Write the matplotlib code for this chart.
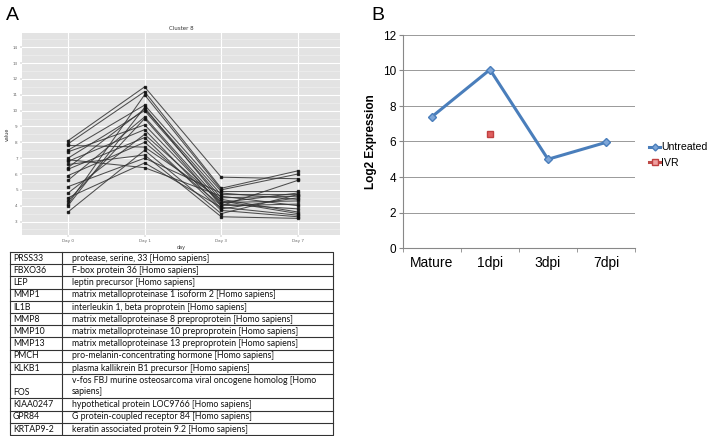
import matplotlib
matplotlib.use("Agg")
import matplotlib.pyplot as plt
import numpy as np
from matplotlib.lines import Line2D

# ---------------- data ----------------
days = ["Day 0", "Day 1", "Day 3", "Day 7"]
cluster_day0 = [8.1, 7.9, 4.1, 7.5, 4.0, 6.4, 7.0, 5.6, 4.3, 7.4, 6.8, 4.8, 6.3, 5.9, 7.8, 3.6, 6.6, 5.2, 4.5, 6.9]
cluster_day1 = [11.5, 11.2, 11.0, 10.35, 10.2, 10.1, 10.0, 9.6, 9.5, 9.1, 8.8, 8.5, 8.3, 8.0, 7.7, 7.5, 7.2, 7.0, 6.7, 6.4]
cluster_day3 = [5.8, 5.1, 5.0, 4.9, 4.3, 4.7, 4.5, 4.2, 4.0, 4.1, 3.8, 4.2, 3.7, 4.0, 4.4, 3.5, 3.3, 4.8, 3.9, 4.6]
cluster_day7 = [5.7, 6.2, 6.0, 4.9, 3.5, 4.7, 4.6, 4.8, 4.1, 3.8, 4.5, 4.3, 3.3, 5.6, 3.6, 4.7, 3.2, 4.4, 3.4, 4.0]
a_yticks = list(range(3, 15))

genes = ["PRSS33", "FBXO36", "LEP", "MMP1", "IL1B", "MMP8", "MMP10", "MMP13",
         "PMCH", "KLKB1", "FOS", "KIAA0247", "GPR84", "KRTAP9-2"]
descriptions = [
    "protease, serine, 33 [Homo sapiens]",
    "F-box protein 36 [Homo sapiens]",
    "leptin precursor [Homo sapiens]",
    "matrix metalloproteinase 1 isoform 2 [Homo sapiens]",
    "interleukin 1, beta proprotein [Homo sapiens]",
    "matrix metalloproteinase 8 preproprotein [Homo sapiens]",
    "matrix metalloproteinase 10 preproprotein [Homo sapiens]",
    "matrix metalloproteinase 13 preproprotein [Homo sapiens]",
    "pro-melanin-concentrating hormone [Homo sapiens]",
    "plasma kallikrein B1 precursor [Homo sapiens]",
    "v-fos FBJ murine osteosarcoma viral oncogene homolog [Homo\nsapiens]",
    "hypothetical protein LOC9766 [Homo sapiens]",
    "G protein-coupled receptor 84 [Homo sapiens]",
    "keratin associated protein 9.2 [Homo sapiens]",
]
row_heights = [1, 1, 1, 1, 1, 1, 1, 1, 1, 1, 2, 1, 1, 1]

b_categories = ["Mature", "1dpi", "3dpi", "7dpi"]
untreated = [7.4, 10.05, 5.0, 5.95]
ivr_category = ["1dpi"]
ivr = [6.4]

# ---------------- figure ----------------
W, H = 711, 436
fig = plt.figure(figsize=(W / 100, H / 100), dpi=100)
fig.patch.set_facecolor("white")

def frac(x0, y0, x1, y1):
    return [x0 / W, 1 - y1 / H, (x1 - x0) / W, (y1 - y0) / H]

# ---- panel A plot ----
axA = fig.add_axes(frac(22, 33, 340, 235))
axA.set_facecolor("#e3e3e3")
xpos = np.arange(len(days))
for v in zip(cluster_day0, cluster_day1, cluster_day3, cluster_day7):
    axA.plot(xpos, v, color="#333333", lw=0.75, alpha=0.85, marker="s", ms=1.5,
             mfc="#111111", mec="#111111", zorder=3)
axA.set_xlim(-0.6, 3.55)
axA.set_ylim(2.15, 14.9)
axA.set_yticks(a_yticks)
axA.set_yticks(np.arange(2.5, 15, 1.0), minor=True)
axA.set_xticks(xpos)
axA.set_xticklabels(days)
axA.grid(True, which="major", color="white", lw=0.8, zorder=0)
axA.grid(True, which="minor", axis="y", color="#f2f2f2", lw=0.4, zorder=0)
axA.set_axisbelow(True)
for s in axA.spines.values():
    s.set_visible(False)
axA.tick_params(which="both", length=1.5, width=0.3, color="#888888",
                labelsize=3, labelcolor="#666666", pad=1.5)
axA.tick_params(which="minor", length=0)
axA.set_title("Cluster 8", fontsize=4, color="#333333", pad=2)
axA.set_xlabel("day", fontsize=3.5, color="#333333", labelpad=1)
axA.set_ylabel("value", fontsize=3.5, color="#333333", labelpad=2)

fig.text(6 / W, 1 - 20 / H, "A", fontsize=14, color="black", family="Liberation Sans")
fig.text(371 / W, 1 - 20 / H, "B", fontsize=14, color="black", family="Liberation Sans")

# ---- table ----
axT = fig.add_axes(frac(10, 252, 333, 435))
total = sum(row_heights)
axT.set_xlim(0, 323)
axT.set_ylim(total, 0)
axT.axis("off")
lc = "#333333"
axT.plot([0, 323, 323, 0, 0], [0, 0, total, total, 0], color=lc, lw=0.8, clip_on=False)
axT.plot([52, 52], [0, total], color=lc, lw=0.8, clip_on=False)
fs_t = 6.3
y = 0
for g, d, h in zip(genes, descriptions, row_heights):
    if y > 0:
        axT.plot([0, 323], [y, y], color=lc, lw=0.8, clip_on=False)
    if h == 1:
        axT.text(3, y + 0.52, g, va="center", ha="left", fontsize=fs_t,
                 family="Lato", color="#111111")
        axT.text(62, y + 0.52, d, va="center", ha="left", fontsize=fs_t,
                 family="Lato", color="#111111")
    else:
        axT.text(3, y + 1.55, g, va="center", ha="left", fontsize=fs_t,
                 family="Lato", color="#111111")
        axT.text(62, y + 1.0, d, va="center", ha="left", fontsize=fs_t,
                 family="Lato", color="#111111", linespacing=1.35)
    y += h

# ---- panel B ----
axB = fig.add_axes(frac(403, 35, 635, 248))
bx = np.arange(len(b_categories))
axB.plot(bx, untreated, color="#4a7ebb", lw=2.2, marker="D", ms=4,
         mfc="#7ea6d8", mec="#4a7ebb", label="Untreated", zorder=3)
ivr_x = [b_categories.index(c) for c in ivr_category]
axB.plot(ivr_x, ivr, color="#be4b48", lw=2.2, marker="s", ms=5,
         mfc="#e06060", mec="#c04040", label="IVR", zorder=3, linestyle="none")
axB.set_xlim(-0.5, 3.5)
axB.set_ylim(0, 12)
axB.set_yticks(range(0, 13, 2))
axB.set_xticks(bx)
axB.set_xticklabels(b_categories, fontsize=10, family="Liberation Sans")
axB.set_xticks(np.arange(-0.5, 4, 1), minor=True)
axB.tick_params(axis="x", which="major", length=0, pad=6)
axB.tick_params(axis="x", which="minor", length=3, color="#888888", direction="out")
axB.tick_params(axis="y", length=3, color="#888888", labelsize=8.5, pad=2)
for lab in axB.get_yticklabels():
    lab.set_family("Liberation Sans")
axB.grid(True, axis="y", color="#999999", lw=0.7)
axB.set_axisbelow(True)
axB.spines["top"].set_visible(False)
axB.spines["right"].set_visible(False)
axB.spines["left"].set_color("#888888")
axB.spines["bottom"].set_color("#888888")
axB.set_ylabel("Log2 Expression", fontsize=8.5, fontweight="bold", labelpad=4,
               family="Liberation Sans")

handles = [
    Line2D([], [], color="#4a7ebb", lw=2.2, marker="D", ms=3.5, mfc="#7ea6d8", mec="#4a7ebb"),
    Line2D([], [], color="#be4b48", lw=2.2, marker="s", ms=4, mfc="#f0a0a0", mec="#c04040"),
]
fig.legend(handles, ["Untreated", "IVR"], loc="upper left",
           bbox_to_anchor=(644 / W, 1 - 137 / H), frameon=False,
           prop={"family": "Liberation Sans", "size": 7.6},
           handlelength=1.0, handletextpad=0.1, labelspacing=0.55, borderpad=0)

fig.savefig("out.png", dpi=100)
